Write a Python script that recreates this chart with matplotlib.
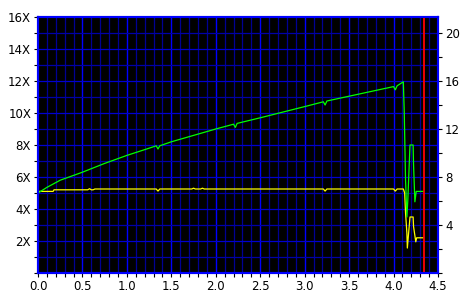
import numpy as np
import matplotlib
matplotlib.use("Agg")
import matplotlib.pyplot as plt
from matplotlib.ticker import MultipleLocator, FixedLocator

# green trace (speed, X)
green_x = [0.0, 0.1, 0.25, 0.5, 0.75, 1.0, 1.25, 1.33, 1.35, 1.37, 1.5, 1.75, 2.0,
           2.2, 2.22, 2.24, 2.5, 2.75, 3.0, 3.21, 3.23, 3.25, 3.5, 3.75, 4.0,
           4.02, 4.04, 4.11, 4.12, 4.135, 4.15, 4.16, 4.185, 4.22, 4.225, 4.24,
           4.255, 4.335]
green_y = [5.0, 5.35, 5.8, 6.3, 6.85, 7.35, 7.8, 7.95, 7.75, 7.95, 8.2, 8.6, 9.0,
           9.3, 9.1, 9.35, 9.7, 10.05, 10.4, 10.7, 10.5, 10.75, 11.05, 11.35, 11.65,
           11.45, 11.7, 11.95, 10.1, 5.8, 3.5, 4.5, 8.0, 8.0, 6.75, 4.45,
           5.1, 5.1]

# yellow trace
yellow_x = [0.0, 0.17, 0.18, 0.56, 0.58, 0.6, 0.62, 0.64, 1.33, 1.35, 1.37, 1.73,
            1.75, 1.77, 1.83, 1.85, 1.87, 3.21, 3.23, 3.25, 4.0, 4.02, 4.04, 4.11,
            4.125, 4.135, 4.15, 4.155, 4.185, 4.22, 4.225, 4.25, 4.26, 4.335]
yellow_y = [5.1, 5.1, 5.2, 5.2, 5.27, 5.2, 5.2, 5.25, 5.25, 5.12, 5.25, 5.25,
            5.3, 5.25, 5.25, 5.3, 5.25, 5.25, 5.12, 5.25, 5.25, 5.12, 5.25, 5.25,
            5.0, 3.75, 2.5, 1.56, 3.5, 3.5, 2.9, 1.95, 2.2, 2.2]

end_marker = 4.34
left_ticks = [2, 4, 6, 8, 10, 12, 14, 16]
left_labels = ["%dX" % v for v in left_ticks]
right_ticks = [4, 8, 12, 16, 20]

fig = plt.figure(figsize=(4.63, 2.93), dpi=100)
ax = fig.add_axes([38 / 463, 20 / 293, 400 / 463, 256 / 293])
ax.set_facecolor("black")

ax.set_xlim(0, 4.5)
ax.set_ylim(0, 16)

# grid
for v in np.arange(0.1, 4.5, 0.1):
    if abs(v * 2 - round(v * 2)) < 1e-6:
        ax.axvline(v, color="#0000ff", lw=1.0, zorder=1)
    else:
        ax.axvline(v, color="#000094", lw=0.9, zorder=1)
for v in range(1, 16):
    ax.axhline(v, color="#0000d0" if v % 2 == 0 else "#0000a8", lw=0.9, zorder=1)

ax.plot(yellow_x, yellow_y, color="#ffff00", lw=0.9, zorder=3)
ax.plot(green_x, green_y, color="#00ff00", lw=0.9, zorder=4)
ax.axvline(end_marker, color="#ff0000", lw=1.3, zorder=5)

ax.set_xticks(np.arange(0, 4.51, 0.5))
ax.set_xticklabels(["%.1f" % v for v in np.arange(0, 4.51, 0.5)])
ax.xaxis.set_minor_locator(MultipleLocator(0.1))
ax.yaxis.set_major_locator(FixedLocator(left_ticks))
ax.yaxis.set_minor_locator(MultipleLocator(1))
ax.set_yticklabels(left_labels)

for s in ax.spines.values():
    s.set_color("#0000ff")
    s.set_linewidth(1.5)

ax.tick_params(axis="both", which="both", colors="black", labelsize=8.5,
               length=3, width=0.8, pad=2)

ax2 = ax.twinx()
ax2.set_ylim(0, 16 * 4 / 3)
ax2.yaxis.set_major_locator(FixedLocator(right_ticks))
ax2.yaxis.set_minor_locator(MultipleLocator(2))
ax2.tick_params(axis="y", which="both", colors="black", labelsize=8.5,
                length=3, width=0.8, pad=2)
for s in ax2.spines.values():
    s.set_color("#0000ff")
    s.set_linewidth(1.5)

fig.savefig("out.png", dpi=100, facecolor="white")
